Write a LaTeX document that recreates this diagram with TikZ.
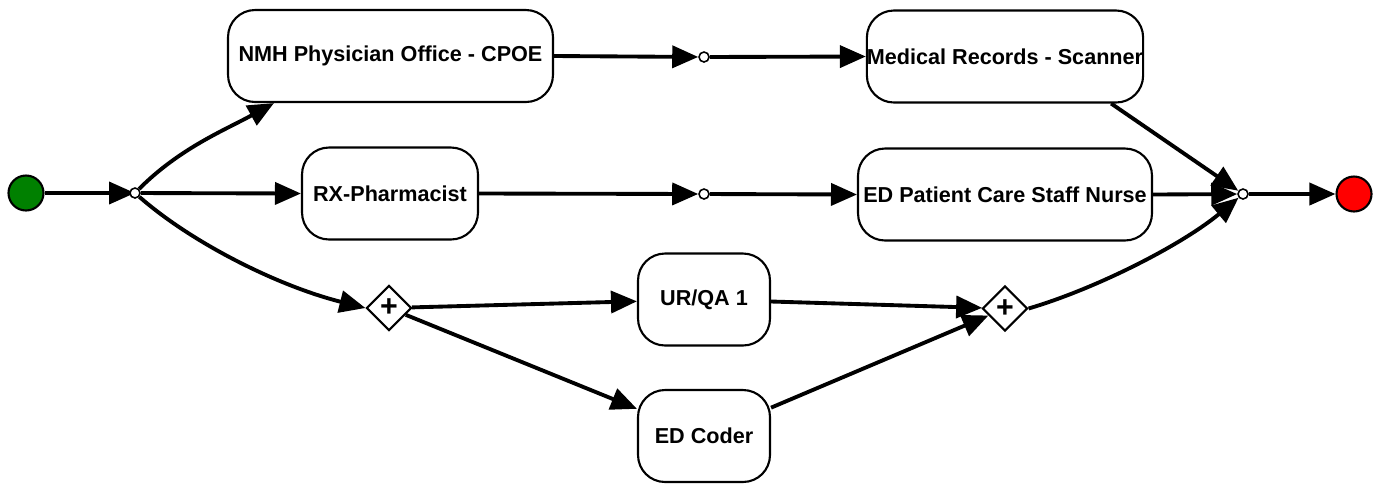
\documentclass[tikz,border=0pt]{standalone}
\usepackage{fontspec}
\setmainfont{Liberation Sans}
\usetikzlibrary{arrows.meta,shapes.geometric}
\definecolor{startgreen}{RGB}{0,128,0}
\definecolor{stopred}{RGB}{255,0,0}

\begin{document}
\begin{tikzpicture}[
    x=0.02cm, y=-0.02cm,
    % Styles
    task/.style={% For the activity boxes
        rectangle,
        rounded corners=0.54cm,
        draw,
        line width=1.2pt,
        minimum height=1.84cm,
        inner sep=0pt,
        font=\bfseries\fontsize{12.3}{14}\selectfont,
        },
    event/.style={% For start and end
        circle,
        draw,
        line width=1.2pt,
        minimum size=0.7cm,
        inner sep=0pt,
        },
    junction/.style={% For the small joins
        circle,
        draw,
        line width=0.9pt,
        fill=white,
        minimum size=0.2cm,
        inner sep=0pt,
        },
    gateway/.style={% For the parallel gates
        diamond,
        draw,
        line width=1.2pt,
        fill=white,
        minimum size=0.9cm,
        inner sep=0pt,
        font=\bfseries\LARGE,
        },
    flow/.style={% Arrows
        -{Triangle[length=0.52cm,width=0.44cm]},
        line width=2.2pt,
        },
    ]

    \useasboundingbox (0,0) rectangle (1381,485);

    %Start and end
    \node [event, fill=startgreen] (start) at (26,193) {};
    \node [event, fill=stopred] (stop) at (1354,194) {};

    %Draw tasks
    %top row
    \node [task, minimum width=6.5cm] (nmh) at (390.5,56) {NMH Physician Office - CPOE};
    \node [task, minimum width=5.52cm] (medrec) at (1005,56.5) {Medical Records - Scanner};
    %second row
    \node [task, minimum width=3.52cm] (rx) at (390,193.5) {RX-Pharmacist};
    \node [task, minimum width=5.88cm] (nurse) at (1005,194.5) {ED Patient Care Staff Nurse};
    %bottom rows
    \node [task, minimum width=2.64cm] (urqa) at (704,299.5) {UR/QA 1};
    \node [task, minimum width=2.64cm] (coder) at (704,436) {ED Coder};

    %Draw gates
    \node [gateway] (plus1) at (389,308) {+};
    \node [gateway] (plus2) at (1005,308.5) {+};

    % Draw Arrows
    % input
    \draw [flow] (start) -- (135,193) node [junction] (split) {};
    \draw [flow] (split) .. controls (180,148) and (225,130) .. ([xshift=0.94cm]nmh.south west);
    \draw [flow] (split) -- (rx.west);
    \draw [flow] (split) .. controls (192,243) and (278,286) .. (plus1.west);

    % Internal
    \node [junction] (join1) at (704,57) {};
    \node [junction] (join2) at (704,194) {};
    \node [junction] (merge) at (1243,194) {};
    \draw [flow] (nmh.east) -- (join1);
    \draw [flow] (join1) -- (medrec.west);
    \draw [flow] (rx.east) -- (join2);
    \draw [flow] (join2) -- (nurse.west);
    \draw [flow] (plus1) -- (urqa);
    \draw [flow] (plus1) -- (coder);
    \draw [flow] (urqa) -- (plus2);
    \draw [flow] (coder) -- (plus2);

    %Output
    \draw [flow] ([xshift=-0.66cm]medrec.south east) -- (merge);
    \draw [flow] (nurse.east) -- (merge);
    \draw [flow] (plus2.east) .. controls (1098,288) and (1183,244) .. (merge);
    \draw [flow] (merge) -- (stop);

\end{tikzpicture}
\end{document}
